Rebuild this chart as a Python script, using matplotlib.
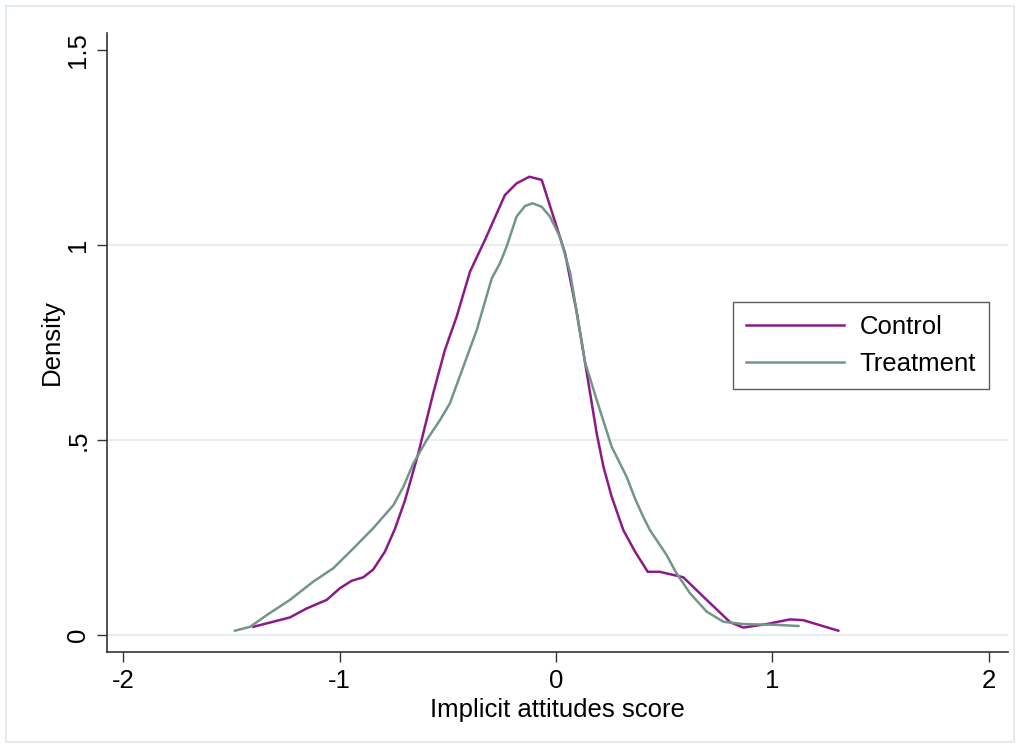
import numpy as np
import matplotlib
matplotlib.use('Agg')
import matplotlib.pyplot as plt
from matplotlib.patches import Rectangle

plt.rcParams['font.family'] = ['Liberation Sans', 'DejaVu Sans']

# ── Data ─────────────────────────────────────────────────────
control_x = [-1.398, -1.229, -1.152, -1.059, -0.998, -0.944, -0.890, -0.844, -0.790,
             -0.744, -0.697, -0.636, -0.567, -0.513, -0.459, -0.397, -0.328, -0.236,
             -0.182, -0.123, -0.066, -0.012, 0.042, 0.095, 0.134, 0.188, 0.219, 0.257,
             0.311, 0.365, 0.424, 0.480, 0.588, 0.696, 0.804, 0.865, 0.973, 1.081,
             1.142, 1.304]
control_y = [0.021, 0.045, 0.068, 0.090, 0.120, 0.139, 0.148, 0.168, 0.214,
             0.272, 0.346, 0.466, 0.620, 0.731, 0.816, 0.932, 1.013, 1.128,
             1.158, 1.175, 1.167, 1.073, 0.979, 0.830, 0.700, 0.517, 0.432, 0.355,
             0.269, 0.214, 0.162, 0.162, 0.148, 0.090, 0.033, 0.019, 0.028, 0.040,
             0.038, 0.011]

treat_x = [-1.483, -1.413, -1.336, -1.229, -1.121, -1.029, -0.936, -0.844, -0.751,
           -0.705, -0.659, -0.597, -0.536, -0.490, -0.428, -0.366, -0.297, -0.259,
           -0.228, -0.182, -0.143, -0.108, -0.066, -0.028, 0.018, 0.065, 0.134,
           0.188, 0.257, 0.326, 0.365, 0.403, 0.434, 0.511, 0.557, 0.619, 0.696,
           0.773, 0.865, 1.019, 1.120]
treat_y = [0.011, 0.021, 0.051, 0.090, 0.137, 0.171, 0.222, 0.274, 0.333,
           0.380, 0.440, 0.500, 0.551, 0.594, 0.688, 0.782, 0.914, 0.953,
           0.996, 1.073, 1.100, 1.107, 1.098, 1.073, 1.021, 0.930, 0.700,
           0.603, 0.483, 0.406, 0.350, 0.303, 0.269, 0.205, 0.158, 0.107, 0.060,
           0.034, 0.028, 0.026, 0.023]

x_ticks = [-2, -1, 0, 1, 2]
x_tick_labels = ['-2', '-1', '0', '1', '2']
y_ticks = [0, 0.5, 1, 1.5]
y_tick_labels = ['0', '.5', '1', '1.5']
grid_levels = [0, 0.5, 1]

# ── Style ────────────────────────────────────────────────────
purple = '#8B1A89'
sage = '#739688'
grid_color = '#E6EFF0'
axis_color = '#333333'
fs = 18.5

fig = plt.figure(figsize=(10.2, 7.48), dpi=100)
fig.patch.set_facecolor('white')
fig.patches.append(Rectangle((6 / 1020, 6 / 748), 1008 / 1020, 736 / 748,
                             transform=fig.transFigure, fill=False,
                             edgecolor='#E2ECEE', linewidth=1.5))

ax = fig.add_axes([107 / 1020, 1 - 652 / 748, 901 / 1020, 619 / 748])
ax.set_xlim(-2.074, 2.088)
ax.set_ylim(-0.0436, 1.5436)

for g in grid_levels:
    ax.axhline(g, color=grid_color, linewidth=1.6, zorder=0)

ax.plot(control_x, control_y, color=purple, linewidth=1.8, label='Control')
ax.plot(treat_x, treat_y, color=sage, linewidth=1.8, label='Treatment')

ax.set_xticks(x_ticks)
ax.set_xticklabels(x_tick_labels, fontsize=fs)
ax.set_yticks(y_ticks)
ax.set_yticklabels(y_tick_labels, fontsize=fs, rotation=90, va='center')
ax.tick_params(direction='out', length=7, width=1, color=axis_color, pad=5)

for side in ['top', 'right']:
    ax.spines[side].set_visible(False)
for side in ['left', 'bottom']:
    ax.spines[side].set_color(axis_color)
    ax.spines[side].set_linewidth(1.2)

ax.set_xlabel('Implicit attitudes score', fontsize=fs, labelpad=4)
ax.set_ylabel('Density', fontsize=fs, labelpad=2)

leg = ax.legend(loc='upper left', bbox_to_anchor=(0.695, 0.565), fontsize=fs,
                frameon=True, fancybox=False, handlelength=3.8, handletextpad=0.62,
                labelspacing=0.5, borderpad=0.5, borderaxespad=0)
leg.get_frame().set_edgecolor(axis_color)
leg.get_frame().set_linewidth(1.0)

fig.savefig('out.png', dpi=100, facecolor='white')
